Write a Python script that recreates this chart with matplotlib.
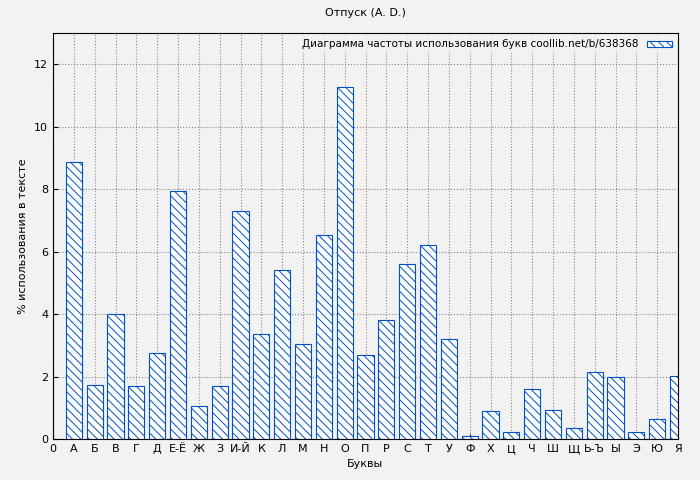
import matplotlib
matplotlib.use("Agg")
import matplotlib.pyplot as plt

letters = ["А", "Б", "В", "Г", "Д", "Е-Ё", "Ж", "З", "И-Й", "К", "Л", "М", "Н", "О", "П",
           "Р", "С", "Т", "У", "Ф", "Х", "Ц", "Ч", "Ш", "Щ", "Ь-Ъ", "Ы", "Э", "Ю", "Я"]
freq = [8.86, 1.73, 4.0, 1.70, 2.75, 7.94, 1.06, 1.70, 7.30, 3.36, 5.41, 3.04, 6.53, 11.26, 2.69,
        3.81, 5.60, 6.21, 3.20, 0.10, 0.90, 0.22, 1.60, 0.93, 0.35, 2.14, 1.98, 0.22, 0.64, 2.02]

plt.rcParams['hatch.color'] = '#0050c8'
plt.rcParams['hatch.linewidth'] = 0.7
fig = plt.figure(figsize=(7, 4.8), dpi=100, facecolor='#f2f2f2')
ax = fig.add_axes([53/700, 41/480, 625/700, 406/480], facecolor='#f2f2f2')

pos = list(range(1, len(letters) + 1))
ax.bar(pos, freq, width=0.78, color='white', edgecolor='#0050c8', linewidth=0.8,
       hatch='\\\\\\\\', label='Диаграмма частоты использования букв coollib.net/b/638368')

ax.set_xlim(0, 30)
ax.set_ylim(0, 13)
ax.set_xticks([0] + pos)
ax.set_xticklabels(["0"] + letters, fontsize=8)
ax.set_yticks(range(0, 13, 2))
ax.tick_params(labelsize=8, direction='in')
ax.grid(True, linestyle=':', color='#888888', linewidth=0.8)
ax.set_axisbelow(True)
ax.set_xlabel("Буквы", fontsize=8)
ax.set_ylabel("% использования в тексте", fontsize=8)
ax.set_title("Отпуск (A. D.)", fontsize=8, pad=12)
leg = ax.legend(loc='upper right', fontsize=7.5, frameon=True, fancybox=False,
                edgecolor='none', facecolor='#f2f2f2', markerfirst=False,
                handlelength=2.4, handleheight=0.5, borderaxespad=0.2)
fig.savefig("out.png", facecolor=fig.get_facecolor())
